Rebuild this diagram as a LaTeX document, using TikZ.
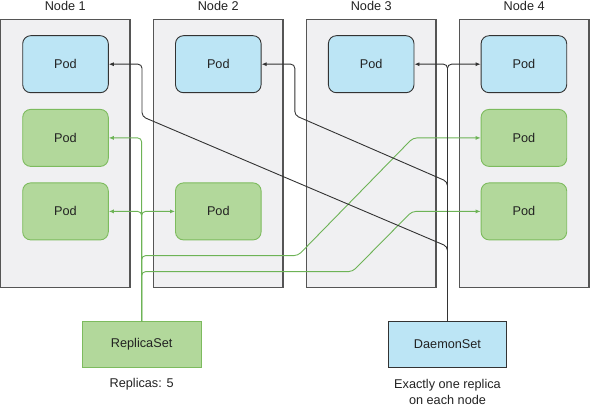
\documentclass[tikz,border=0pt]{standalone}
\usepackage{fontspec}
\setmainfont{Liberation Sans}
\usetikzlibrary{arrows.meta}
\definecolor{boxfill}{HTML}{F0F0F2}
\definecolor{boxline}{HTML}{555555}
\definecolor{bluefill}{HTML}{BCE5F5}
\definecolor{greenfill}{HTML}{B2D89B}
\definecolor{greenline}{HTML}{7DBB5E}
\definecolor{gconn}{HTML}{6DB356}
\definecolor{kconn}{HTML}{333333}
\definecolor{txt}{HTML}{222222}
\tikzset{
  every node/.style={text=txt,font=\fontsize{12.7}{15}\selectfont},
  nodebox/.style={draw=boxline,fill=boxfill,line width=1.2pt,minimum width=129.5pt,minimum height=268pt,inner sep=0pt},
  bluepod/.style={draw=kconn,fill=bluefill,line width=0.9pt,rounded corners=8pt,minimum width=85.6pt,minimum height=57pt,inner sep=0pt},
  greenpod/.style={draw=greenline,fill=greenfill,line width=0.9pt,rounded corners=8pt,minimum width=85.6pt,minimum height=57pt,inner sep=0pt},
  gline/.style={draw=gconn,line width=0.9pt,rounded corners=4pt,-{Latex[length=5pt,width=4pt]}},
  kline/.style={draw=kconn,line width=0.9pt,rounded corners=4pt,-{Latex[length=5pt,width=4pt]}},
  lbl/.style={anchor=base,inner sep=0pt},
}
\begin{document}
\begin{tikzpicture}[x=1pt,y=-1pt]
\useasboundingbox (0,0) rectangle (590,406);
% node boxes
\node[nodebox] (n1) at (65.3,153.3) {};
\node[nodebox] (n2) at (218.3,153.3) {};
\node[nodebox] (n3) at (371.3,153.3) {};
\node[nodebox] (n4) at (524.2,153.3) {};
\node[lbl] (l1) at (65.3,10.5) {Node 1};
\node[lbl] (l2) at (218.3,10.5) {Node 2};
\node[lbl] (l3) at (371.3,10.5) {Node 3};
\node[lbl] (l4) at (524.2,10.5) {Node 4};
% pods
\node[bluepod] (p11) at (65.5,64.2) {Pod};
\node[greenpod] (p12) at (65.5,137.9) {Pod};
\node[greenpod] (p13) at (65.5,211.4) {Pod};
\node[bluepod] (p21) at (218.3,64.2) {Pod};
\node[greenpod] (p23) at (218.3,211.4) {Pod};
\node[bluepod] (p31) at (371.2,64.2) {Pod};
\node[bluepod] (p41) at (523.9,64.2) {Pod};
\node[greenpod] (p42) at (523.9,137.9) {Pod};
\node[greenpod] (p43) at (523.9,211.4) {Pod};
% controllers
\node[draw=greenline,fill=greenfill,line width=0.9pt,minimum width=118.7pt,minimum height=45.6pt,inner sep=0pt] (rs) at (141.65,344.5) {ReplicaSet};
\node[draw=kconn,fill=bluefill,line width=0.9pt,minimum width=118.4pt,minimum height=45.6pt,inner sep=0pt] (ds) at (447.5,344.5) {DaemonSet};
\node[lbl] (rsl) at (141.65,387.4) {Replicas: 5};
\node[lbl] (dsl1) at (447.5,388.3) {Exactly one replica};
\node[lbl] (dsl2) at (447.5,404.3) {on each node};
% ReplicaSet connectors
\draw[gline] (rs.north) |- (p12.east);
\draw[gline] (rs.north) |- (p13.east);
\draw[gline] (rs.north) |- (p23.west);
\draw[gline] (rs.north) -- (141.65,255.6) -- (298,255.6) -- (413,137.9) -- (p42.west);
\draw[gline] (rs.north) -- (141.65,271.6) -- (352.5,271.6) -- (412,211.4) -- (p43.west);
% DaemonSet connectors
\draw[kline] (ds.north) |- (p31.east);
\draw[kline] (ds.north) |- (p41.west);
\draw[kline] (ds.north) -- (447.5,246.5) -- (142,116.5) -- (142,64.2) -- (p11.east);
\draw[kline] (ds.north) -- (447.5,181.7) -- (294.8,115.3) -- (294.8,64.2) -- (p21.east);
\end{tikzpicture}
\end{document}
